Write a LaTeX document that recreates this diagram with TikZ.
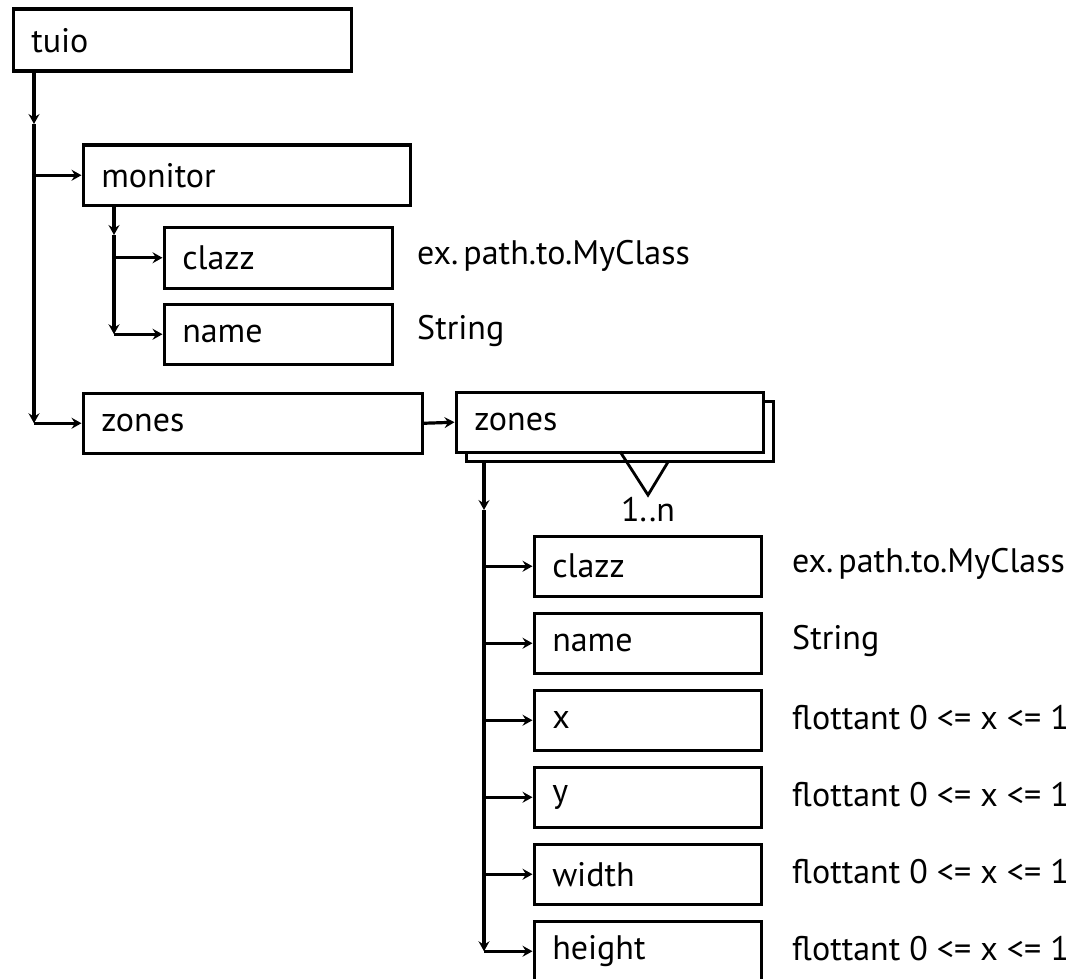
\documentclass[tikz,border=0pt]{standalone}
\usepackage{fontspec}
\setmainfont{PT Sans}
\usetikzlibrary{arrows.meta}
\begin{document}
\begin{tikzpicture}[x=1pt,y=-1pt,
  tip/.tip={Stealth[length=10pt,width=11pt,inset=3.5pt]},
  box/.style={draw, line width=3.5pt, anchor=north west, inner xsep=18pt,
    minimum height=60pt, font=\fontsize{34}{37}\selectfont, align=left},
  note/.style={anchor=west, inner sep=0pt, font=\fontsize{34}{37}\selectfont},
  wire/.style={line width=3.2pt},
  arr/.style={wire, -{tip}}]
\useasboundingbox (0,0) rectangle (1074,979);

% top-level objects
\node[box, text width=302pt, minimum height=62pt] (tuio) at (11.5,7.5) {tuio};
\node[box, text width=291pt] (monitor) at (81.5,143.5) {monitor};
\node[box, text width=192pt, minimum height=61pt] (mclazz) at (162.5,225.5) {clazz};
\node[box, text width=192pt] (mname) at (162.5,302.5) {name};
\node[box, text width=303pt] (zones) at (81.5,391.5) {zones};

% stacked "zones" collection
\node[box, text width=271pt, fill=white] (zback) at (464.5,399.5) {\phantom{zones}};
\node[box, text width=271pt, fill=white] (zlist) at (454.5,390.5) {zones};

% children of the collection
\node[box, text width=191pt] (zclazz) at (532.5,534.5) {clazz};
\node[box, text width=191pt] (zname)  at (532.5,611.5) {name};
\node[box, text width=191pt] (zx)     at (532.5,688.5) {x};
\node[box, text width=191pt] (zy)     at (532.5,765.5) {y};
\node[box, text width=191pt] (zw)     at (532.5,842.5) {width};
\node[box, text width=191pt] (zh)     at (532.5,919.5) {height};

% value descriptions
\node[note] (dmclazz) at (417,256) {ex.\kern5pt path.to.MyClass};
\node[note] (dmname)  at (417,331) {String};
\node[note] (dzclazz) at (792,564) {ex.\kern5pt path.to.MyClass};
\node[note] (dzname)  at (792,641) {String};
\node[note] (dzx)     at (792,718) {flottant 0 <= x <= 1};
\node[note] (dzy)     at (792,795) {flottant 0 <= x <= 1};
\node[note] (dzw)     at (792,872) {flottant 0 <= x <= 1};
\node[note] (dzh)     at (792,949) {flottant 0 <= x <= 1};

% multiplicity mark
\coordinate (vl) at (620,451.5);
\coordinate (va) at (648,495);
\coordinate (vr) at (668,462);
\draw[line width=2.8pt, line join=miter] (vl) -- (va) -- (vr);
\node[note, anchor=center] (mult) at (648,510) {1..n};

% tree from tuio
\coordinate (t0) at (34,70);
\coordinate (t1) at (34,124);
\coordinate (tm) at (t0 |- monitor.west);
\coordinate (tz) at (t0 |- zones.west);
\draw[arr] (t0) -- (t1);
\draw[arr] (t1) -- (tz);
\draw[arr] (tm) -- (monitor.west);
\draw[arr] (tz) -- (zones.west);

% tree from monitor
\coordinate (m0) at (114,204);
\coordinate (m1) at (114,235);
\coordinate (mc) at (m0 |- mclazz.west);
\coordinate (mn) at (m0 |- mname.west);
\draw[arr] (m0) -- (m1);
\draw[arr] (m1) -- (mn);
\draw[arr] (mc) -- (mclazz.west);
\draw[arr] (mn) -- (mname.west);

% zones to collection
\draw[arr] (zones.east) -- (zlist.west);

% tree from the collection
\coordinate (z0) at (484,461);
\coordinate (z1) at (484,510);
\coordinate (zc) at (z0 |- zclazz.west);
\coordinate (zn) at (z0 |- zname.west);
\coordinate (zxx) at (z0 |- zx.west);
\coordinate (zyy) at (z0 |- zy.west);
\coordinate (zww) at (z0 |- zw.west);
\coordinate (zhh) at (z0 |- zh.west);
\draw[arr] (z0) -- (z1);
\draw[arr] (z1) -- (zhh);
\draw[arr] (zc) -- (zclazz.west);
\draw[arr] (zn) -- (zname.west);
\draw[arr] (zxx) -- (zx.west);
\draw[arr] (zyy) -- (zy.west);
\draw[arr] (zww) -- (zw.west);
\draw[arr] (zhh) -- (zh.west);
\end{tikzpicture}
\end{document}
